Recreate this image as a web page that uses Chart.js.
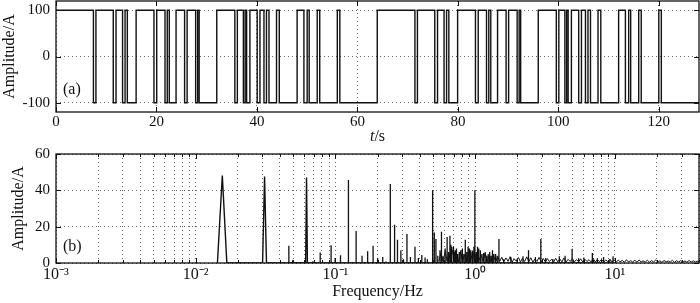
<!DOCTYPE html>
<html>
<head>
<meta charset="utf-8">
<script src="https://cdn.jsdelivr.net/npm/chart.js@4.4.1/dist/chart.umd.min.js"></script>
<style>
  html, body { margin: 0; padding: 0; background: #fff; }
  #wrap { position: relative; width: 700px; height: 303px; }
  canvas { position: absolute; left: 0; }
</style>
</head>
<body>
<div id="wrap">
  <canvas id="sigChart" width="700" height="146" style="top:0"></canvas>
  <canvas id="specChart" width="700" height="157" style="top:146px"></canvas>
</div>
<script>
// (a) binary test current, switching instants in seconds and the level after each one
const sigEdges = [
  0, 7.45, 7.95, 11.4, 11.95, 13.25, 13.75, 14.2, 15.95, 19.5, 20.05, 21.7, 22.15, 22.55,
  23.9, 25.6, 26.1, 27.8, 28.2, 28.5, 32.0, 35.6, 36.1, 37.3, 37.65, 37.95, 38.6, 40.05,
  40.6, 41.4, 41.9, 42.4, 43.9, 44.45, 48.0, 49.35, 50.0, 50.4, 52.0, 52.5, 56.0, 56.5,
  63.95, 71.45, 71.95, 75.4, 75.95, 77.25, 77.75, 78.2, 79.95, 83.5, 84.05, 85.7, 86.15,
  86.55, 87.9, 89.6, 90.1, 91.8, 92.2, 92.5, 96.0, 99.6, 100.1, 101.3, 101.65, 101.95,
  102.6, 104.05, 104.6, 105.4, 105.9, 106.4, 107.9, 108.45, 112.0, 113.35, 114.0, 114.4,
  116.0, 116.5, 120.0, 120.5, 128
];
const sigLevels = [
  100, -100, 100, -100, 100, -100, 100, -100, 100, -100, 100, -100, 100, -100,
  100, -100, 100, -100, 100, -100, 100, -100, 100, -100, 100, -100, 100, -100,
  100, -100, 100, -100, 100, -100, 100, -100, 100, -100, 100, -100, 100, -100,
  100, -100, 100, -100, 100, -100, 100, -100, 100, -100, 100, -100, 100,
  -100, 100, -100, 100, -100, 100, -100, 100, -100, 100, -100, 100, -100,
  100, -100, 100, -100, 100, -100, 100, -100, 100, -100, 100, -100,
  100, -100, 100, -100, -100
];
const timeTicks = [0, 20, 40, 60, 80, 100, 120];
const ampTicksA = [-100, 0, 100];

// (b) amplitude spectrum
// main lobes that show a visible width
const lobeFreq = [0.0143, 0.0155, 0.0167, 0.0301, 0.0311, 0.0321, 0.0612, 0.0621, 0.0630];
const lobeAmp  = [0, 48.2, 0, 0, 47.6, 0, 0, 47.0, 0];
// single spectral lines
const lineFreq = [
  0.0464, 0.0494, 0.069, 0.0778, 0.0931, 0.0995, 0.1087, 0.1239, 0.1406, 0.155, 0.170,
  0.186, 0.2006, 0.218, 0.23, 0.247, 0.265, 0.278, 0.294, 0.307, 0.325, 0.344, 0.371,
  0.392, 0.415, 0.438, 0.455, 0.496, 0.510, 0.524, 0.54, 0.56, 0.574, 0.59, 0.61, 0.63,
  0.645, 0.66, 0.67, 0.68, 0.70, 0.71, 0.72, 0.735, 0.75, 0.77, 0.79, 0.81, 0.83, 0.85,
  0.87, 0.89, 0.91, 0.93, 0.95, 0.96, 0.98, 0.995, 1.02, 1.04, 1.06, 1.09, 1.12, 1.15,
  1.18, 1.21, 1.24, 1.27, 1.30, 1.33, 1.36, 1.40, 1.44, 1.48, 1.6, 1.8, 2.0, 2.2, 2.41,
  2.7, 2.95, 3.2, 3.6, 4.0, 4.4, 4.94, 5.5, 6.0, 6.9, 7.5, 8.3, 9.2, 9.7
];
const lineAmp = [
  9.5, 1.5, 1.0, 5.8, 9.8, 2.7, 4.2, 45.7, 17.6, 4.0, 6.4,
  9.5, 2.6, 3.3, 0.8, 43.5, 21.0, 12.8, 7.0, 2.0, 15.9, 3.3, 9.0,
  2.7, 4.4, 3.0, 2.0, 40.0, 16.8, 13.2, 4.0, 7.0, 17.2, 3.7, 8.0, 14.3,
  6.0, 15.0, 10.0, 9.0, 9.0, 6.0, 7.0, 8.0, 5.0, 6.0, 7.0, 8.0, 5.0, 12.8,
  6.0, 9.0, 8.0, 7.0, 6.0, 5.5, 9.0, 40.0, 6.0, 9.0, 8.0, 7.0, 5.0, 5.5,
  6.0, 4.0, 5.0, 6.0, 4.0, 7.0, 5.0, 5.0, 4.0, 13.2, 2.0, 3.3, 2.0, 3.7, 7.0,
  3.3, 13.2, 2.7, 2.2, 3.7, 4.0, 7.8, 2.6, 3.0, 5.5, 2.6, 3.3, 2.0, 3.7
];
// broadband floor
const floorFreq = [
  0.55, 0.57, 0.59, 0.61, 0.63, 0.65, 0.67, 0.69, 0.71, 0.735, 0.76, 0.785, 0.81, 0.84, 0.87,
  0.90, 0.93, 0.96, 0.99, 1.02, 1.06, 1.10, 1.14, 1.18, 1.22, 1.26, 1.30, 1.35, 1.40, 1.45, 1.50,
  1.55, 1.60, 1.66, 1.72, 1.78, 1.84, 1.90, 1.97, 2.04, 2.11, 2.18, 2.26, 2.34, 2.42, 2.50,
  2.59, 2.68, 2.77, 2.87, 2.97, 3.07,
  3.18, 3.29, 3.40, 3.52, 3.64, 3.77, 3.90, 4.04, 4.18, 4.32, 4.47, 4.63, 4.79, 4.96, 5.13,
  5.31, 5.50, 5.69, 5.89, 6.10, 6.31, 6.53, 6.76, 7.00, 7.24, 7.50, 7.76, 8.03, 8.31, 8.60,
  8.90, 9.21, 9.53, 9.86,
  10.2, 10.6, 10.9, 11.3, 11.7, 12.1, 12.5, 13.0, 13.4, 13.9, 14.4, 14.9, 15.4, 15.9, 16.5,
  17.1, 17.7, 18.3, 18.9, 19.6, 20.3, 21.0, 21.7, 22.5, 23.3, 24.1, 24.9, 25.8, 26.7, 27.6,
  28.6, 29.6, 30.6, 31.7, 32.8, 34.0, 35.2, 36.4, 37.7, 39.0, 40
];
const floorAmp = [
  1.0, 5.5, 0.8, 6.5, 1.2, 4.8, 0.9, 7.2, 1.5, 5.0, 0.8, 6.0, 1.3, 4.5, 0.7,
  5.8, 1.1, 6.8, 1.4, 5.2, 0.9, 4.6, 1.2, 5.4, 0.8, 3.9, 1.0, 4.4, 0.7, 3.6, 0.9,
  3.2, 0.6, 2.8, 0.9, 3.5, 0.5, 2.4, 1.0, 3.0, 0.6, 2.6, 0.8, 3.4, 0.7, 2.9,
  0.5, 2.2, 0.9, 3.1, 0.6, 2.5,
  0.6, 2.4, 0.8, 2.0, 0.5, 2.6, 0.7, 2.2, 0.6, 2.8, 0.5, 2.0, 0.8, 2.5, 0.6,
  1.9, 0.7, 2.3, 0.5, 2.1, 0.8, 1.8, 0.6, 2.4, 0.5, 1.9, 0.7, 2.0, 0.5, 1.7,
  0.8, 2.1, 0.6, 1.8,
  0.5, 1.6, 0.6, 1.4, 0.4, 1.8, 0.6, 1.3, 0.5, 1.5, 0.4, 1.7, 0.6, 1.2, 0.5,
  1.5, 0.4, 1.3, 0.6, 1.6, 0.5, 1.2, 0.4, 1.4, 0.6, 1.1, 0.5, 1.5, 0.4, 1.2,
  0.6, 1.3, 0.5, 1.1, 0.4, 1.4, 0.5, 1.2, 0.6, 1.0, 0.8
];
const freqMajor = [0.001, 0.01, 0.1, 1, 10];
const freqMajorLabels = ['10\u207B\u00B3', '10\u207B\u00B2', '10\u207B\u00B9', '10\u2070', '10\u00B9'];
const freqMinorMult = [2, 3, 4, 5, 6, 7, 8, 9];
const ampTicksB = [0, 20, 40, 60];

const SERIF = "'Liberation Serif', 'Times New Roman', serif";
const INK = '#111';

// box, inward tick marks and panel tag, MATLAB style
const framePlugin = {
  id: 'frame',
  afterDraw(chart, args, opts) {
    const { ctx, chartArea: a, scales } = chart;
    ctx.save();
    ctx.strokeStyle = INK;
    ctx.lineWidth = 1;
    scales.x.ticks.forEach(t => {
      const px = Math.round(scales.x.getPixelForValue(t.value)) + 0.5;
      const len = t.minor ? 3 : 5;
      ctx.beginPath();
      ctx.moveTo(px, a.bottom); ctx.lineTo(px, a.bottom - len);
      ctx.moveTo(px, a.top); ctx.lineTo(px, a.top + len);
      ctx.stroke();
    });
    scales.y.ticks.forEach(t => {
      const py = Math.round(scales.y.getPixelForValue(t.value)) + 0.5;
      ctx.beginPath();
      ctx.moveTo(a.left, py); ctx.lineTo(a.left + 5, py);
      ctx.moveTo(a.right, py); ctx.lineTo(a.right - 5, py);
      ctx.stroke();
    });
    ctx.lineWidth = 1.3;
    ctx.strokeRect(a.left, a.top, a.right - a.left, a.bottom - a.top);

    ctx.fillStyle = INK;
    ctx.font = '16px ' + SERIF;
    ctx.textBaseline = 'middle';
    ctx.textAlign = 'left';
    ctx.fillText(opts.tag, a.left + 7, a.bottom - opts.tagRise);

    if (opts.italicTitle) {
      const [it, rest] = opts.italicTitle;
      ctx.font = 'italic 16px ' + SERIF;
      const w1 = ctx.measureText(it).width;
      ctx.font = '16px ' + SERIF;
      const w2 = ctx.measureText(rest).width;
      const x0 = (a.left + a.right) / 2 - (w1 + w2) / 2;
      ctx.font = 'italic 16px ' + SERIF;
      ctx.fillText(it, x0, opts.titleY);
      ctx.font = '16px ' + SERIF;
      ctx.fillText(rest, x0 + w1, opts.titleY);
    }
    ctx.restore();
  }
};

const dotted = { display: true, color: '#666', lineWidth: 1, drawTicks: false };
const noBorder = { display: false, dash: [1, 3] };
// keep the plot box exactly where the reference has it
const fixX = h => s => { s.height = h; s.paddingLeft = 0; s.paddingRight = 0; };
const fixY = w => s => { s.width = w; s.paddingTop = 0; s.paddingBottom = 0; };

// ---- panel (a)
new Chart(document.getElementById('sigChart'), {
  type: 'line',
  data: {
    datasets: [{
      data: sigEdges.map((t, i) => ({ x: t, y: sigLevels[i] })),
      stepped: true,
      borderColor: INK,
      borderWidth: 1.4,
      pointRadius: 0,
      fill: false
    }]
  },
  options: {
    responsive: false,
    animation: false,
    devicePixelRatio: 1,
    layout: { padding: { top: 1, right: 1, left: 0, bottom: 0 } },
    plugins: {
      legend: { display: false },
      tooltip: { enabled: false },
      frame: { tag: '(a)', tagRise: 22, italicTitle: ['t', '/s'], titleY: 137 }
    },
    scales: {
      x: {
        type: 'linear', min: 0, max: 128,
        afterBuildTicks: s => { s.ticks = timeTicks.map(v => ({ value: v })); },
        afterFit: fixX(34),
        grid: dotted, border: noBorder,
        ticks: { autoSkip: false, maxRotation: 0, padding: 1, color: INK, font: { family: SERIF, size: 15 } }
      },
      y: {
        min: -120, max: 120,
        afterBuildTicks: s => { s.ticks = ampTicksA.map(v => ({ value: v })); },
        afterFit: fixY(56),
        grid: dotted, border: noBorder,
        ticks: { padding: 6, color: INK, font: { family: SERIF, size: 15 } },
        title: { display: true, text: 'Amplitude/A', color: INK, padding: { top: 0, bottom: 0 }, font: { family: SERIF, size: 16 } }
      }
    }
  },
  plugins: [framePlugin]
});

// ---- panel (b)
const spikePoints = [];
lineFreq.forEach((f, i) => {
  spikePoints.push({ x: f, y: 0 }, { x: f, y: lineAmp[i] }, { x: f, y: 0 });
});
const freqTicks = [];
freqMajor.forEach(m => {
  freqTicks.push({ value: m });
  freqMinorMult.forEach(k => freqTicks.push({ value: m * k, minor: true }));
});

new Chart(document.getElementById('specChart'), {
  type: 'line',
  data: {
    datasets: [
      {
        data: floorFreq.map((f, i) => ({ x: f, y: floorAmp[i] })),
        borderColor: INK, borderWidth: 1, pointRadius: 0, fill: false
      },
      {
        data: spikePoints,
        borderColor: INK, borderWidth: 1.3, pointRadius: 0, fill: false
      },
      {
        data: lobeFreq.map((f, i) => ({ x: f, y: lobeAmp[i] })),
        borderColor: INK, borderWidth: 1.4, pointRadius: 0, fill: false
      }
    ]
  },
  options: {
    responsive: false,
    animation: false,
    devicePixelRatio: 1,
    layout: { padding: { top: 8, right: 1, left: 0, bottom: 0 } },
    plugins: {
      legend: { display: false },
      tooltip: { enabled: false },
      frame: { tag: '(b)', tagRise: 16 }
    },
    scales: {
      x: {
        type: 'logarithmic', min: 0.001, max: 40,
        afterBuildTicks: s => { s.ticks = freqTicks.filter(t => t.value <= 40); },
        afterFit: fixX(40),
        grid: dotted, border: noBorder,
        ticks: {
          autoSkip: false, maxRotation: 0, padding: 2, color: INK,
          font: { family: SERIF, size: 16 },
          callback: v => {
            const k = freqMajor.indexOf(v);
            return k >= 0 ? freqMajorLabels[k] : '';
          }
        },
        title: { display: true, text: 'Frequency/Hz', color: INK, padding: { top: 0, bottom: 2 }, font: { family: SERIF, size: 16 } }
      },
      y: {
        min: 0, max: 60,
        afterBuildTicks: s => { s.ticks = ampTicksB.map(v => ({ value: v })); },
        afterFit: fixY(56),
        grid: dotted, border: noBorder,
        ticks: { padding: 6, color: INK, font: { family: SERIF, size: 15 } },
        title: { display: true, text: 'Amplitude/A', color: INK, padding: { top: 9, bottom: 0 }, font: { family: SERIF, size: 16 } }
      }
    }
  },
  plugins: [framePlugin]
});
</script>
</body>
</html>
